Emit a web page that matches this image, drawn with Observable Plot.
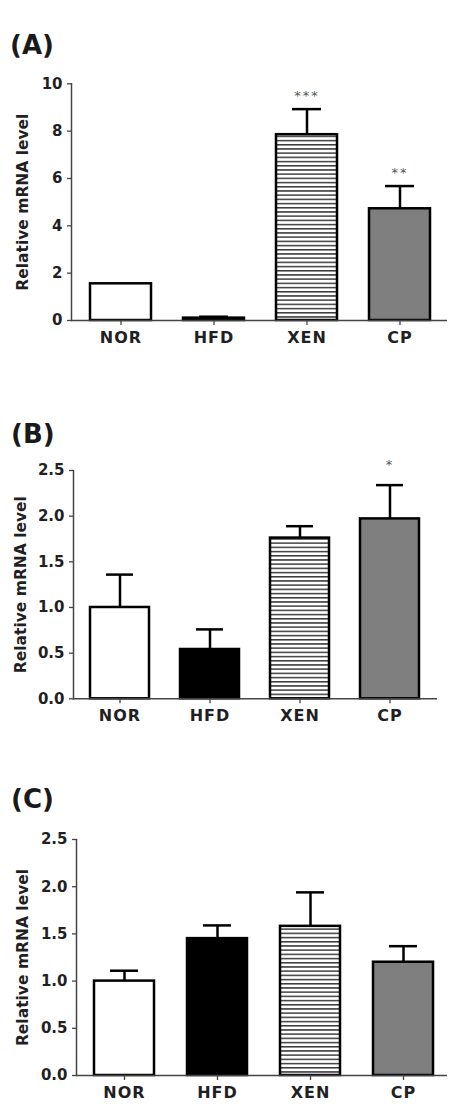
<!DOCTYPE html>
<html>
<head>
<meta charset="utf-8">
<script src="https://cdn.jsdelivr.net/npm/d3@7"></script>
<script src="https://cdn.jsdelivr.net/npm/@observablehq/plot@0.6"></script>
<style>
  html, body { margin: 0; padding: 0; background: #fff; }
  #page { position: relative; width: 452px; height: 1111px; overflow: hidden; background: #fff; }
  .plabel { position: absolute; font-family: "DejaVu Sans", sans-serif; font-weight: bold; font-size: 26px; line-height: 1; color: #1a1a1a; }
  .panel { position: absolute; left: 0; }
  .panel svg [aria-label="x-axis tick label"] text { letter-spacing: 1px; }
  .panel svg .stars text { letter-spacing: 2px; }
</style>
</head>
<body>
<div id="page"></div>
<script>
// ---- data ----
const groups = ["NOR", "HFD", "XEN", "CP"];
const groupFills = ["white", "black", "stripes", "#7f7f7f"];

const meansA = [1.55, 0.10, 7.85, 4.72];
const semsA  = [0.00, 0.06, 1.08, 0.96];
const starsA = ["", "", "***", "**"];
const yTicksA = [0, 2, 4, 6, 8, 10];

const meansB = [1.00, 0.54, 1.76, 1.97];
const semsB  = [0.36, 0.22, 0.13, 0.37];
const starsB = ["", "", "", "*"];
const yTicksB = [0, 0.5, 1.0, 1.5, 2.0, 2.5];

const meansC = [1.00, 1.45, 1.58, 1.20];
const semsC  = [0.11, 0.14, 0.36, 0.17];
const starsC = ["", "", "", ""];
const yTicksC = [0, 0.5, 1.0, 1.5, 2.0, 2.5];

const yTitle = "Relative mRNA level";
const panelLabels = ["(A)", "(B)", "(C)"];

// ---- drawing ----
const page = document.getElementById("page");

function addPattern(svg, id) {
  const defs = d3.select(svg).insert("defs", ":first-child");
  const p = defs.append("pattern")
    .attr("id", id)
    .attr("patternUnits", "userSpaceOnUse")
    .attr("width", 10)
    .attr("height", 4.2);
  p.append("rect").attr("width", 10).attr("height", 4.2).attr("fill", "white");
  p.append("rect").attr("y", 0).attr("width", 10).attr("height", 1.5).attr("fill", "#3a3a3a");
}

function panel(cfg) {
  const patId = "stripes" + cfg.key;
  const data = groups.map((g, i) => ({
    group: g,
    mean: cfg.means[i],
    sem: cfg.sems[i],
    star: cfg.stars[i],
    fill: groupFills[i] === "stripes" ? `url(#${patId})` : groupFills[i]
  }));
  const withErr = data.filter(d => d.sem > 0);
  const withStar = data.filter(d => d.star);

  const svg = Plot.plot({
    width: 452,
    height: cfg.height,
    marginTop: cfg.mt,
    marginBottom: cfg.mb,
    marginLeft: cfg.ml,
    marginRight: cfg.mr,
    style: { fontFamily: "DejaVu Sans, sans-serif", color: "#1f1f24", background: "none", overflow: "visible" },
    x: { domain: groups, paddingInner: cfg.pi, paddingOuter: cfg.po, align: cfg.align, label: null },
    y: { domain: [0, cfg.yMax], label: null },
    color: { type: "identity" },
    marks: [
      Plot.ruleX(withErr, { x: "group", y1: "mean", y2: d => d.mean + d.sem, stroke: "black", strokeWidth: 2.5 }),
      Plot.tickY(withErr, { x: "group", y: d => d.mean + d.sem, stroke: "black", strokeWidth: 2.5, inset: 16 }),
      Plot.barY(data, { x: "group", y: "mean", fill: "fill", stroke: "black", strokeWidth: 2.5 }),
      Plot.ruleY([0], { stroke: "#444", strokeWidth: 1.5 }),
      Plot.frame({ anchor: "left", stroke: "#444", strokeWidth: 1.5 }),
      Plot.axisY({ ticks: cfg.ticks, tickFormat: cfg.fmt, tickSize: 4, tickPadding: 5, stroke: "#444", strokeWidth: 1.3, fontSize: 15, fontWeight: "bold", label: null }),
      Plot.axisX({ tickSize: 5, tickPadding: 6, stroke: "#444", strokeWidth: 1.3, fontSize: 16, fontWeight: "bold", label: null }),
      Plot.text([yTitle], { frameAnchor: "left", textAnchor: "middle", rotate: -90, dx: cfg.titleDx, fontSize: 15.5, fontWeight: "bold", fill: "#1f1f24" }),
      Plot.text(withStar, { x: "group", y: d => d.mean + d.sem, text: "star", dy: cfg.starDy, fontSize: 13, fill: "#555", className: "stars" })
    ]
  });
  addPattern(svg, patId);
  const div = document.createElement("div");
  div.className = "panel";
  div.style.top = cfg.top + "px";
  div.appendChild(svg);
  page.appendChild(div);

  const lab = document.createElement("div");
  lab.className = "plabel";
  lab.textContent = cfg.label;
  lab.style.left = cfg.labelX + "px";
  lab.style.top = cfg.labelY + "px";
  page.appendChild(lab);
}

panel({
  key: "A", label: panelLabels[0], labelX: 10, labelY: 32,
  means: meansA, sems: semsA, stars: starsA, ticks: yTicksA, fmt: d3.format("d"), yMax: 10,
  top: 60, height: 290, mt: 23.3, mb: 30, ml: 71, mr: 5,
  pi: 0.341, po: 0.185, align: 0.53, titleDx: -48, starDy: -13
});

panel({
  key: "B", label: panelLabels[1], labelX: 11, labelY: 421,
  means: meansB, sems: semsB, stars: starsB, ticks: yTicksB, fmt: d3.format(".1f"), yMax: 2.5,
  top: 450, height: 290, mt: 20, mb: 41.7, ml: 73, mr: 15,
  pi: 0.344, po: 0.179, align: 0.5, titleDx: -52, starDy: -20
});

panel({
  key: "C", label: panelLabels[2], labelX: 11, labelY: 786,
  means: meansC, sems: semsC, stars: starsC, ticks: yTicksC, fmt: d3.format(".1f"), yMax: 2.5,
  top: 815, height: 296, mt: 24, mb: 36, ml: 76, mr: 5,
  pi: 0.356, po: 0.157, align: 0.55, titleDx: -53, starDy: -13
});
</script>
</body>
</html>
